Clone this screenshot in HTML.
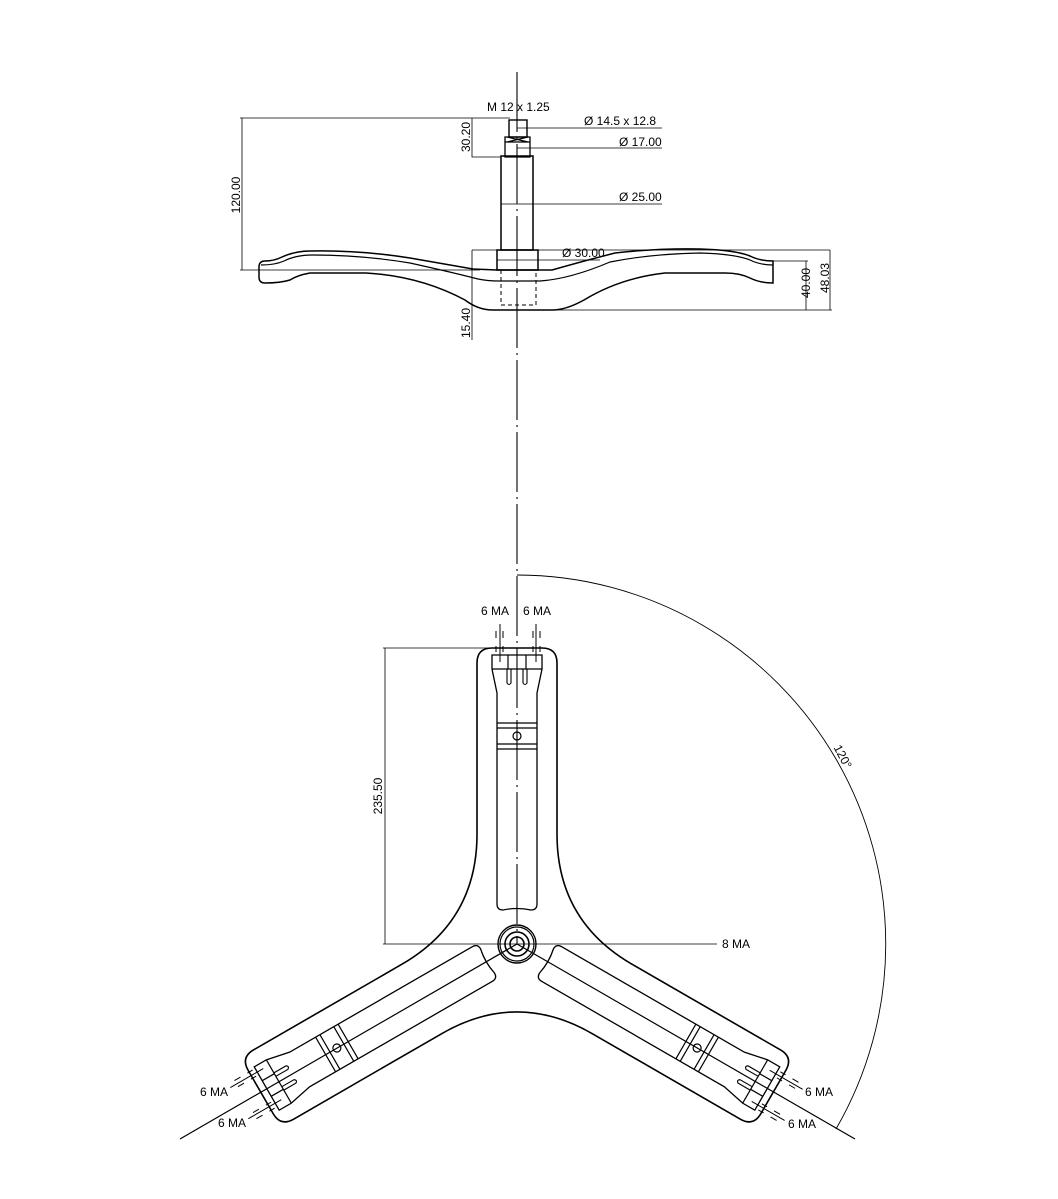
<!DOCTYPE html>
<html><head><meta charset="utf-8"><style>
html,body{margin:0;padding:0;background:#fff}
svg{display:block}
text{font-family:"Liberation Sans",sans-serif;font-size:12px;fill:#000}
</style></head><body>
<svg width="1058" height="1199" viewBox="0 0 1058 1199" xmlns="http://www.w3.org/2000/svg">
<defs>
<g id="arm" fill="none" stroke="#000">
  <path stroke-width="1.6" d="M -40 -110 L -40 -281 Q -40 -296 -25 -296 L 25 -296 Q 40 -296 40 -281 L 40 -110 Q 40 -23.1 115.3 20.4"/>
  <path stroke-width="1.3" d="M -25 -289 L 25 -289 L 25 -275 L 20 -251 L 20 -40 Q 20 -34 14 -34 Q 0 -37 -14 -34 Q -20 -34 -20 -40 L -20 -251 L -25 -275 Z"/>
  <path stroke-width="1.2" d="M -25 -275 L 25 -275 M -9 -289 L -9 -275 M 9 -289 L 9 -275"/>
  <path stroke-width="1.1" d="M -10 -275 L -10 -261 Q -8 -258 -6 -261 L -6 -275 M 6 -275 L 6 -261 Q 8 -258 10 -261 L 10 -275"/>
  <path stroke-width="1.2" d="M -20 -221 L 20 -221 M -20 -216 L 20 -216 M -20 -200 L 20 -200 M -20 -195 L 20 -195"/>
  <circle cx="0" cy="-208" r="4" stroke-width="1.2"/>
  <path stroke-width="1" d="M -17 -320 L -17 -282 M 19 -320 L 19 -282 M -21 -313 L -21 -306 M -14 -313 L -14 -306 M 16 -313 L 16 -306 M 23 -313 L 23 -306 M -21 -298 L -21 -292 M -14 -298 L -14 -292 M 16 -298 L 16 -292 M 23 -298 L 23 -292"/>
</g>
</defs>

<g fill="none" stroke="#000">
  <line x1="517" y1="72" x2="517" y2="360" stroke-width="1.1" stroke-dasharray="60,5,2,5"/>
  <rect x="509" y="120" width="18" height="17" stroke-width="1.4"/>
  <path d="M 505 137 L 530 137 L 530 157 L 505 157 Z M 505 142 L 530 142 M 507 137 L 528 142 M 528 137 L 507 142" stroke-width="1.3"/>
  <rect x="501" y="156" width="32" height="94" stroke-width="1.5"/>
  <rect x="497" y="250" width="41" height="20" stroke-width="1.5"/>
  <path d="M 501 270 L 501 305 L 536 305 L 536 270" stroke-width="1" stroke-dasharray="4,3"/>
  <path stroke-width="1.5" d="M 265 261 Q 274 261 282 257 Q 295 251 310 251 Q 360 250 410 258 Q 455 266 473 269 L 497 270 L 552 270 Q 580 262 615 253 Q 660 248 700 249 Q 735 250 750 256 Q 760 261 773 261 L 773 283 Q 760 283 750 278 Q 740 273 725 273 L 665 273 Q 620 278 584 300 Q 566 310 552 310 L 493 310 Q 478 310 465 300 Q 420 276 366 273 L 310 273 Q 298 275 290 280 Q 280 283 265 283 Q 259 283 259 277 L 259 267 Q 259 261 265 261 Z"/>
  <path stroke-width="1.2" d="M 261 265 Q 275 265 284 261 Q 296 255 312 255 Q 362 255 410 263 Q 455 273 478 279 Q 488 281 498 281 L 540 281 Q 570 279 610 262 Q 650 254 700 253 Q 735 254 750 260 Q 760 265 773 265"/>
  <g stroke-width="0.8">
    <path d="M 242 118 L 242 270 M 240 118 L 510 118 M 240 270 L 480 270"/>
    <path d="M 472 118 L 472 157 L 501 157"/>
    <path d="M 472 250 L 472 340 M 472 250 L 830 250"/>
    <path d="M 806 261 L 806 310 M 773 261 L 808 261 M 830 250 L 830 310 M 552 310 L 832 310"/>
    <path d="M 517 128 L 662 128 M 517 148 L 662 148 M 501 204 L 662 204 M 497 260 L 600 260"/>
  </g>
</g>
<text x="487" y="111">M 12 x 1.25</text>
<text x="584" y="125">Ø 14.5 x 12.8</text>
<text x="619" y="146">Ø 17.00</text>
<text x="619" y="201">Ø 25.00</text>
<text x="562" y="257">Ø 30.00</text>
<text transform="translate(240,195) rotate(-90)" text-anchor="middle">120.00</text>
<text transform="translate(470,137) rotate(-90)" text-anchor="middle">30.20</text>
<text transform="translate(470,323) rotate(-90)" text-anchor="middle">15.40</text>
<text transform="translate(810,283) rotate(-90)" text-anchor="middle">40.00</text>
<text transform="translate(829,278) rotate(-90)" text-anchor="middle">48.03</text>

<g fill="none" stroke="#000">
  <line x1="517" y1="360" x2="517" y2="944" stroke-width="1.1" stroke-dasharray="60,5,2,5"/>
  <line x1="517" y1="944" x2="180" y2="1139" stroke-width="1.2"/>
  <line x1="517" y1="944" x2="855" y2="1139" stroke-width="1.2"/>
  <g transform="translate(517,944)">
    <use href="#arm"/>
    <use href="#arm" transform="rotate(120)"/>
    <use href="#arm" transform="rotate(240)"/>
    <circle r="19" stroke-width="1.4"/>
    <circle r="17" stroke-width="1.2"/>
    <circle r="12" stroke-width="1.6"/>
    <circle r="7" stroke-width="1.6"/>
  </g>
  <path d="M 517 575 A 369 369 0 0 1 836 1129" stroke-width="0.9"/>
  <path d="M 385 648 L 385 944 M 383 648 L 500 648 M 383 944 L 717 944" stroke-width="0.8"/>
</g>
<text transform="translate(382,796) rotate(-90)" text-anchor="middle">235.50</text>
<text x="722" y="948">8 MA</text>
<text x="481" y="615">6 MA</text>
<text x="523" y="615">6 MA</text>
<text x="200" y="1096">6 MA</text>
<text x="218" y="1127">6 MA</text>
<text x="805" y="1096">6 MA</text>
<text x="788" y="1128">6 MA</text>
<text transform="translate(842,757) rotate(62)" text-anchor="middle" dominant-baseline="middle">120°</text>
</svg>
</body></html>
